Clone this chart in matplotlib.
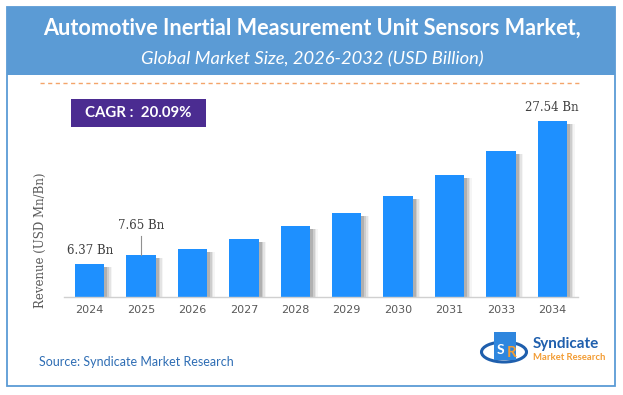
import matplotlib
matplotlib.use("Agg")
import matplotlib.pyplot as plt
from matplotlib.patches import Rectangle, Ellipse

years = ["2024", "2025", "2026", "2027", "2028", "2029", "2030", "2031", "2033", "2034"]
values = [6.37, 7.65, 8.59, 10.07, 11.90, 13.92, 16.43, 19.54, 23.09, 27.54]
labels = {0: "6.37 Bn", 1: "7.65 Bn", 9: "27.54 Bn"}
title = "Automotive Inertial Measurement Unit Sensors Market,"
subtitle = "Global Market Size, 2026-2032 (USD Billion)"
cagr = "CAGR :  20.09%"
ylabel = "Revenue (USD Mn/Bn)"
source = "Source: Syndicate Market Research"

W, H = 623, 395
fig = plt.figure(figsize=(W / 100, H / 100), dpi=100)
fig.patch.set_facecolor("white")

def fx(px):
    return px / W

def fy(py):
    return 1 - py / H

# outer border and banner
fig.patches.append(Rectangle((fx(7), fy(386)), fx(615) - fx(7), fy(7) - fy(386),
                             transform=fig.transFigure, fill=False,
                             edgecolor="#5B9BD5", linewidth=1.3))
fig.patches.append(Rectangle((fx(7), fy(75)), fx(615) - fx(7), fy(7) - fy(75),
                             transform=fig.transFigure, facecolor="#5B9BD5",
                             edgecolor="none"))
fig.text(fx(312), fy(28), title, ha="center", va="center", color="white",
         fontsize=15.6, fontweight="bold", family="Lato")
fig.text(fx(312), fy(59), subtitle, ha="center", va="center", color="white",
         fontsize=13.2, style="italic", family="Lato")

# dashed line
fig.lines.append(plt.Line2D([fx(40), fx(580)], [fy(83), fy(83)],
                            transform=fig.transFigure, color="#F4A46A",
                            linewidth=1.0, linestyle=(0, (3, 2.5))))

# CAGR box
fig.patches.append(Rectangle((fx(71), fy(127)), fx(206) - fx(71), fy(99) - fy(127),
                             transform=fig.transFigure, facecolor="#4B2C91",
                             edgecolor="none"))
fig.text(fx(138.5), fy(113), cagr, ha="center", va="center", color="white",
         fontsize=10.8, fontweight="bold", family="Lato")

# axes
ax_top, ax_bot = 100, 297
ax = fig.add_axes([fx(64), fy(ax_bot), fx(578) - fx(64), fy(ax_top) - fy(ax_bot)])
ymin = 1.44
upp = 0.148
ax.set_xlim(-0.5, len(years) - 0.5)
ax.set_ylim(ymin, ymin + (ax_bot - ax_top) * upp)
ax.set_facecolor("none")

x = list(range(len(years)))
bw = 0.57
# soft shadows to the right of each bar
for off, a in [(0.15, 0.06), (0.12, 0.10), (0.09, 0.16), (0.06, 0.24)]:
    ax.bar([i + off for i in x], [v - ymin - 3 * upp for v in values], width=bw,
           bottom=ymin, color="#555555", alpha=a, linewidth=0, zorder=1)
ax.bar(x, [v - ymin for v in values], width=bw, bottom=ymin, color="#1E90FF",
       linewidth=0, zorder=2)

for spine in ["top", "right", "left"]:
    ax.spines[spine].set_visible(False)
ax.spines["bottom"].set_color("#D0D0D0")
ax.spines["bottom"].set_linewidth(1.0)
ax.spines["bottom"].set_zorder(3)
ax.set_yticks([])
ax.set_xticks(x)
ax.set_xticklabels(years, fontsize=8, color="#595959", family="DejaVu Sans")
ax.tick_params(axis="x", length=0, pad=6)

# data labels
ax.text(0, values[0] + 13 * upp, labels[0], ha="center", va="center",
        fontsize=8.5, color="#404040", family="DejaVu Serif")
ax.text(1, values[1] + 30 * upp, labels[1], ha="center", va="center",
        fontsize=8.5, color="#404040", family="DejaVu Serif")
ax.plot([1, 1], [values[1], values[1] + 19 * upp], color="#909090", linewidth=0.8)
ax.text(9, values[9] + 13 * upp, labels[9], ha="center", va="center",
        fontsize=8.5, color="#404040", family="DejaVu Serif")

fig.text(fx(40), fy(240), ylabel, rotation=90, ha="center", va="center",
         fontsize=8.5, color="#595959", family="DejaVu Serif")

# source
fig.text(fx(39), fy(362), source, ha="left", va="center", fontsize=9,
         color="#2E6DB4", family="Lato")

# logo
fig.patches.append(Ellipse((fx(504), fy(352)), fx(45) - fx(0), fy(0) - fy(20),
                           transform=fig.transFigure, fill=False,
                           edgecolor="#1F5FAD", linewidth=2.2))
fig.patches.append(Rectangle((fx(494), fy(360)), fx(22) - fx(0), fy(0) - fy(28),
                             transform=fig.transFigure, facecolor="#2E86DE",
                             edgecolor="none"))
fig.text(fx(500), fy(350), "S", ha="center", va="center", fontsize=10,
         fontweight="bold", color="white", family="Lato")
fig.text(fx(512), fy(353), "R", ha="center", va="center", fontsize=11,
         fontweight="bold", color="#F39C33", family="Lato")
fig.text(fx(533), fy(344), "Syndicate", ha="left", va="center", fontsize=11,
         fontweight="bold", color="#1F5FAD", family="Lato")
fig.text(fx(533), fy(358), "Market Research", ha="left", va="center", fontsize=6.8,
         fontweight="bold", color="#F39C33", family="Lato")

fig.savefig("out.png", dpi=100, facecolor="white")
